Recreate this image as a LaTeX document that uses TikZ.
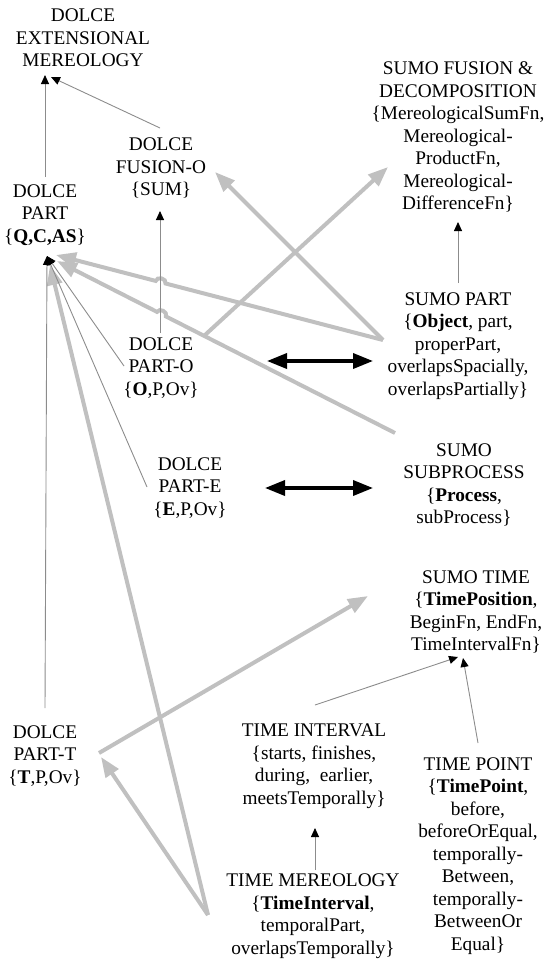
\documentclass[tikz,border=0pt]{standalone}
\usepackage{fontspec}
\setmainfont{Liberation Serif}
\usetikzlibrary{arrows.meta,calc}
\definecolor{linkgray}{RGB}{192,192,192}
\definecolor{refgray}{RGB}{140,140,140}
\begin{document}
\begin{tikzpicture}[x=1pt,y=-1pt,
  lbl/.style={align=center, inner sep=0pt, font=\fontsize{19.3pt}{22.5pt}\selectfont},
  refline/.style={draw=refgray, line width=0.9pt, -{Triangle[length=9pt,width=8pt,black]}},
  maplink/.style={draw=linkgray, line width=4pt, -{Triangle[length=20pt,width=15pt]}},
  equiv/.style={draw=black, line width=3.5pt, {Triangle[length=20pt,width=15pt]}-{Triangle[length=20pt,width=15pt]}},
  hop/.style={bend right=90, looseness=1.3}
]
\useasboundingbox (0,0) rectangle (546,962);

% ---- DOLCE side ----
\node[lbl] (ext) at (83,38) {DOLCE\\EXTENSIONAL\\MEREOLOGY};
\node[lbl] (fuso) at (161,168) {DOLCE\\FUSION-O\\\{SUM\}};
\node[lbl] (dpart) at (45,215) {DOLCE\\PART\\\{\textbf{Q,C,AS}\}};
\node[lbl] (parto) at (161,368) {DOLCE\\PART-O\\\{\textbf{O},P,Ov\}};
\node[lbl] (parte) at (190,488) {DOLCE\\PART-E\\\{\textbf{E},P,Ov\}};
\node[lbl] (partt) at (45,756) {DOLCE\\PART-T\\\{\textbf{T},P,Ov\}};

% ---- SUMO side ----
\node[lbl] (sfus) at (458,137) {SUMO FUSION \&\\DECOMPOSITION\\\{MereologicalSumFn,\\Mereological-\\ProductFn,\\Mereological-\\DifferenceFn\}};
\node[lbl] (spart) at (458,346) {SUMO PART\\\{\textbf{Object}, part,\\properPart,\\overlapsSpacially,\\overlapsPartially\}};
\node[lbl] (ssub) at (464,485) {SUMO\\SUBPROCESS\\\{\textbf{Process},\\subProcess\}};
\node[lbl] (stime) at (476,612) {SUMO TIME\\\{\textbf{TimePosition},\\BeginFn, EndFn,\\TimeIntervalFn\}};

% ---- time theories ----
\node[lbl] (tint) at (314,766) {TIME INTERVAL\\\{starts, finishes,\\during,\ \ earlier,\\meetsTemporally\}};
\node[lbl] (tpoint) at (478,856) {TIME POINT\\\{\textbf{TimePoint},\\before,\\beforeOrEqual,\\temporally-\\Between,\\temporally-\\BetweenOr\\Equal\}};
\node[lbl] (tmer) at (313,916) {TIME MEREOLOGY\\\{\textbf{TimeInterval},\\temporalPart,\\overlapsTemporally\}};

% ---- connection points ----
\coordinate (ext-in1) at (45,75);
\coordinate (ext-in2) at (51,77);
\coordinate (dpart-up) at (45,177);
\coordinate (dpart-in) at (47,256);
\coordinate (dpart-g1) at (56,255);
\coordinate (dpart-g2) at (57,261);
\coordinate (dpart-g3) at (50,265);
\coordinate (fuso-up) at (160,128);
\coordinate (fuso-in) at (160,211);
\coordinate (fuso-g) at (215,172);
\coordinate (parto-up) at (160,333);
\coordinate (parto-left) at (124,366);
\coordinate (parto-ne) at (205,335);
\coordinate (parto-e) at (267,361);
\coordinate (parte-left) at (147,487);
\coordinate (parte-e) at (265,488);
\coordinate (partt-up) at (45,708);
\coordinate (partt-in) at (101,757);
\coordinate (partt-e) at (99,753);
\coordinate (sfus-in) at (458,222);
\coordinate (sfus-g) at (388,167);
\coordinate (spart-up) at (458,283);
\coordinate (spart-w) at (383,340);
\coordinate (spart-e) at (373,361);
\coordinate (ssub-w) at (395,433);
\coordinate (ssub-e) at (373,488);
\coordinate (stime-in1) at (458,657);
\coordinate (stime-in2) at (463,658);
\coordinate (stime-g) at (368,596);
\coordinate (tint-up) at (315,705);
\coordinate (tint-in) at (315,828);
\coordinate (tpoint-up) at (478,743);
\coordinate (tmer-up) at (315,870);
\coordinate (tmer-w) at (208,915);

% ---- mappings between theories (thick grey) ----
\draw[maplink] (spart-w) -- ($(spart-w)!0.665!(dpart-g1)$)
  to[hop] ($(spart-w)!0.695!(dpart-g1)$) -- (dpart-g1);
\draw[maplink] (ssub-w) -- ($(ssub-w)!0.678!(dpart-g2)$)
  to[hop] ($(ssub-w)!0.704!(dpart-g2)$) -- (dpart-g2);
\draw[maplink] (spart-w) -- (fuso-g);
\draw[maplink] (parto-ne) -- (sfus-g);
\draw[maplink] (tmer-w) -- (dpart-g3);
\draw[maplink] (tmer-w) -- (partt-in);
\draw[maplink] (partt-e) -- (stime-g);

% ---- dependencies within a theory (thin) ----
\draw[refline] (dpart-up) -- (ext-in1);
\draw[refline] (fuso-up) -- (ext-in2);
\draw[refline] (parto-up) -- (fuso-in);
\draw[refline] (spart-up) -- (sfus-in);
\draw[refline] (partt-up) -- (dpart-in);
\draw[refline] (parte-left) -- (dpart-in);
\draw[refline] (parto-left) -- (dpart-in);
\draw[refline] (tint-up) -- (stime-in1);
\draw[refline] (tpoint-up) -- (stime-in2);
\draw[refline] (tmer-up) -- (tint-in);

% ---- equivalences ----
\draw[equiv] (parto-e) -- (spart-e);
\draw[equiv] (parte-e) -- (ssub-e);
\end{tikzpicture}
\end{document}
